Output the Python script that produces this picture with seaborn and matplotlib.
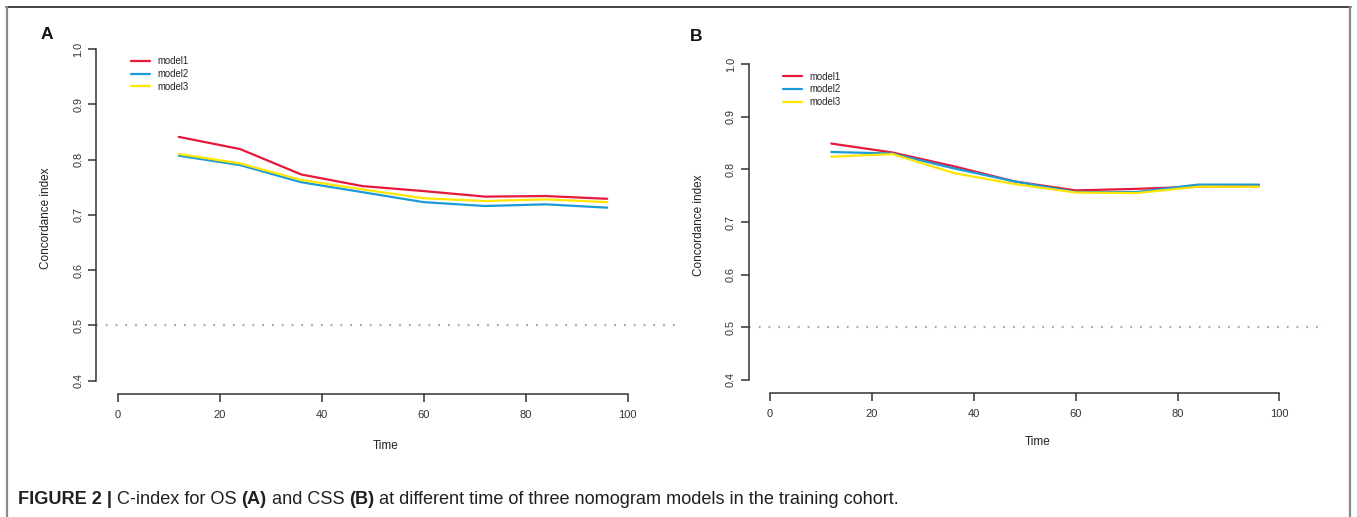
import matplotlib
matplotlib.use("Agg")
import matplotlib.pyplot as plt
import pandas as pd
import seaborn as sns

# ---- data -----------------------------------------------------------------
times = [12, 24, 36, 48, 60, 72, 84, 96]
models = ["model1", "model2", "model3"]

# C-index for overall survival (panel A)
os_model1 = [0.841, 0.819, 0.773, 0.752, 0.743, 0.733, 0.734, 0.729]
os_model2 = [0.807, 0.790, 0.759, 0.741, 0.723, 0.716, 0.719, 0.713]
os_model3 = [0.810, 0.793, 0.763, 0.746, 0.730, 0.725, 0.728, 0.723]

# C-index for cancer-specific survival (panel B)
css_model1 = [0.849, 0.832, 0.806, 0.777, 0.760, 0.763, 0.767, 0.768]
css_model2 = [0.833, 0.830, 0.802, 0.777, 0.757, 0.757, 0.771, 0.771]
css_model3 = [0.824, 0.829, 0.793, 0.772, 0.756, 0.755, 0.767, 0.767]

x_ticks = [0, 20, 40, 60, 80, 100]
y_ticks = [0.4, 0.5, 0.6, 0.7, 0.8, 0.9, 1.0]
chance_level = 0.5

caption_parts = [
    ("FIGURE 2 |", "bold"),
    (" C-index for OS ", "normal"),
    ("(A)", "bold"),
    (" and CSS ", "normal"),
    ("(B)", "bold"),
    (" at different time of three nomogram models in the training cohort.", "normal"),
]

palette = {"model1": "#E6193C", "model2": "#1C9AD6", "model3": "#FFE500"}


def long_table(series):
    rows = []
    for name, vals in zip(models, series):
        for t, v in zip(times, vals):
            rows.append({"Time": t, "cindex": v, "model": name})
    return pd.DataFrame(rows)


df_os = long_table([os_model1, os_model2, os_model3])
df_css = long_table([css_model1, css_model2, css_model3])

# ---- figure ----------------------------------------------------------------
sns.set_style("white")
AX_FONT = ["Liberation Sans Narrow", "Liberation Sans", "DejaVu Sans"]
CAP_FONT = ["Liberation Sans", "DejaVu Sans"]
plt.rcParams["font.family"] = AX_FONT

W, H = 1357, 517
fig = plt.figure(figsize=(W / 100, H / 100), dpi=100)
fig.patch.set_facecolor("white")


def px_axes(left, top, right, bottom):
    return fig.add_axes([left / W, 1 - bottom / H, (right - left) / W, (bottom - top) / H])


AX_COLOR = "#333333"
XLIM = (-4.25, 109.2)
YLIM = (0.376, 1.024)


def draw_panel(ax, data, legend_xy, ylabel_x, xlabel_y):
    sns.lineplot(data=data, x="Time", y="cindex", hue="model", hue_order=models,
                 palette=palette, linewidth=1.6, ax=ax, legend=True)
    ax.axhline(chance_level, color="#A8A8A8", linewidth=1.6,
               linestyle=(0, (0.8, 3.6)), zorder=0)
    ax.set_xlim(*XLIM)
    ax.set_ylim(*YLIM)
    ax.set_xticks(x_ticks)
    ax.set_yticks(y_ticks)
    ax.set_xticklabels([str(t) for t in x_ticks])
    ax.set_yticklabels([f"{t:.1f}" for t in y_ticks])
    for side in ("top", "right"):
        ax.spines[side].set_visible(False)
    ax.spines["left"].set_bounds(y_ticks[0], y_ticks[-1])
    ax.spines["bottom"].set_bounds(x_ticks[0], x_ticks[-1])
    for side in ("left", "bottom"):
        ax.spines[side].set_color(AX_COLOR)
        ax.spines[side].set_linewidth(1.1)
    ax.tick_params(axis="both", direction="out", length=5.5, width=1.1,
                   color=AX_COLOR, labelcolor="#333333", left=True, bottom=True)
    ax.tick_params(axis="x", labelsize=8, pad=6)
    ax.tick_params(axis="y", labelsize=7.8, pad=3.5, labelrotation=90)
    for lab in ax.get_yticklabels():
        lab.set_verticalalignment("center")
    ax.set_xlabel("Time", fontsize=8.5, color="#222222")
    ax.set_ylabel("Concordance index", fontsize=8.5, color="#222222",
                  family=CAP_FONT)
    bbox = ax.get_position()
    ax_w = bbox.width * W
    ax_h = bbox.height * H
    ax_left = bbox.x0 * W
    ax_bottom = (1 - bbox.y0) * H
    ax.yaxis.set_label_coords((ylabel_x - ax_left) / ax_w, 0.49)
    ax.xaxis.set_label_coords((52.5 - XLIM[0]) / (XLIM[1] - XLIM[0]),
                              (ax_bottom - xlabel_y) / ax_h)
    handles, labels = ax.get_legend_handles_labels()
    ax.get_legend().remove()
    ax.legend(handles, labels, loc="upper left",
              bbox_to_anchor=(legend_xy[0] / W, 1 - legend_xy[1] / H),
              bbox_transform=fig.transFigure, frameon=False,
              handlelength=2.0, handletextpad=0.75, labelspacing=0.3,
              borderpad=0, borderaxespad=0, prop={"family": CAP_FONT, "size": 6.9})


ax_a = px_axes(96, 35.7, 674.5, 394)
draw_panel(ax_a, df_os, legend_xy=(131, 56), ylabel_x=52, xlabel_y=440)

ax_b = px_axes(748.5, 51.4, 1326.3, 392.6)
draw_panel(ax_b, df_css, legend_xy=(783, 71.5), ylabel_x=705, xlabel_y=436)

# panel letters
fig.text(41 / W, 1 - 39 / H, "A", fontsize=12.5, fontweight="bold",
         family=CAP_FONT, va="baseline", ha="left", color="#111111")
fig.text(690 / W, 1 - 41 / H, "B", fontsize=12.5, fontweight="bold",
         family=CAP_FONT, va="baseline", ha="left", color="#111111")

# frame around the figure
fig.add_artist(plt.Line2D([6 / W, 1351 / W], [1 - 7 / H, 1 - 7 / H],
                          transform=fig.transFigure, color="#222222", linewidth=1.2))
for xpix in (7, 1350):
    fig.add_artist(plt.Line2D([xpix / W, xpix / W], [0, 1 - 7 / H],
                              transform=fig.transFigure, color="#8A8A8A", linewidth=1.6))

# caption, assembled piece by piece so bold and regular runs line up
CAP_SIZE = 13.1
prev = None
for txt, weight in caption_parts:
    style = dict(fontsize=CAP_SIZE, fontweight=weight, family=CAP_FONT,
                 color="#231F20", ha="left")
    if prev is None:
        prev = fig.text(18 / W, 1 - 504 / H, txt, va="baseline", **style)
    else:
        prev = ax_a.annotate(txt, xy=(1, 0), xycoords=prev, va="bottom",
                             annotation_clip=False, **style)

fig.savefig("out.png", dpi=100, facecolor="white")
